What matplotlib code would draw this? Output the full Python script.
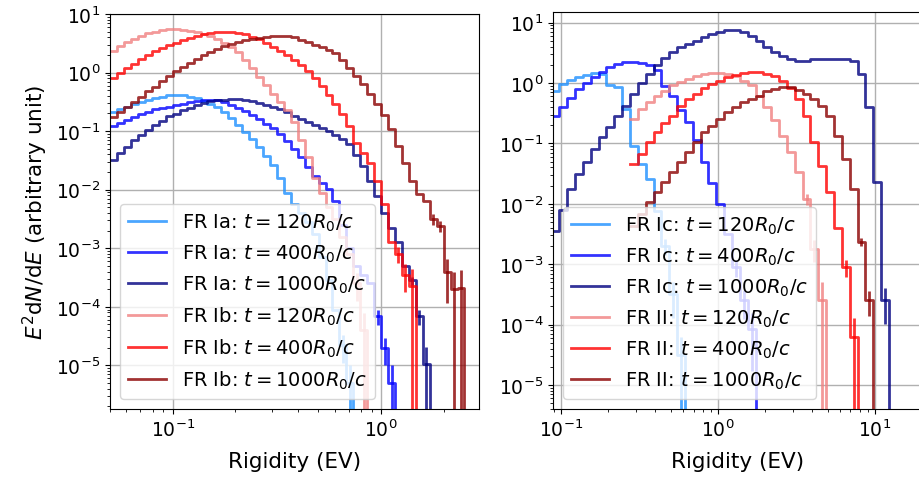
import numpy as np
import matplotlib
matplotlib.use('Agg')
import matplotlib.pyplot as plt

# log10(E^2 dN/dE) per rigidity bin.
# left panel: 30 bins per decade, first bin starts at 10^-1.3
LEFT_LO, LEFT_STEP = -1.3, 1.0 / 30
ia_120 = [-0.68, -0.63, -0.58, -0.54, -0.50, -0.46, -0.43, -0.41, -0.39, -0.38,
          -0.39, -0.41, -0.44, -0.49, -0.53, -0.58, -0.67, -0.78, -0.90, -1.02,
          -1.14, -1.27, -1.42, -1.58, -1.80, -2.05, -2.25, -2.40, -2.55, -2.75,
          -3.15, -3.55, -4.05, -4.65, -5.30]
ia_400 = [-0.92, -0.86, -0.81, -0.76, -0.71, -0.67, -0.63, -0.60, -0.58, -0.55,
          -0.53, -0.51, -0.49, -0.47, -0.46, -0.47, -0.50, -0.55, -0.60, -0.66,
          -0.73, -0.80, -0.87, -0.95, -1.05, -1.17, -1.30, -1.45, -1.62, -1.76,
          -1.88, -1.98, -2.20, -2.60, -3.00, -3.30, -3.45, -3.60, -4.16, -4.70,
          -5.30]
ia_1000 = [-1.50, -1.38, -1.27, -1.16, -1.06, -0.98, -0.89, -0.82, -0.75, -0.70,
           -0.64, -0.60, -0.56, -0.52, -0.49, -0.47, -0.46, -0.45, -0.45, -0.46,
           -0.48, -0.52, -0.55, -0.59, -0.63, -0.68, -0.74, -0.80, -0.85, -0.90,
           -0.95, -1.00, -1.06, -1.13, -1.22, -1.40, -1.60, -1.85, -2.10, -2.40,
           -2.65, -2.90, -3.30, -3.55, -4.16, -4.98]
ib_120 = [0.37, 0.45, 0.52, 0.58, 0.63, 0.67, 0.70, 0.73, 0.74, 0.74,
          0.73, 0.71, 0.69, 0.66, 0.62, 0.57, 0.51, 0.44, 0.35, 0.22,
          0.07, -0.08, -0.22, -0.36, -0.50, -0.64, -0.85, -1.15, -1.45, -1.80,
          -2.05, -2.30, -2.50, -2.80, -3.10, -3.60, -4.40]
ib_400 = [-0.10, -0.01, 0.07, 0.15, 0.23, 0.30, 0.36, 0.42, 0.47, 0.51,
          0.55, 0.59, 0.62, 0.65, 0.67, 0.69, 0.69, 0.69, 0.68, 0.65,
          0.61, 0.57, 0.51, 0.44, 0.37, 0.30, 0.22, 0.13, 0.02, -0.10,
          -0.23, -0.38, -0.53, -0.70, -0.92, -1.20, -1.38, -1.55, -1.85, -2.25,
          -2.90, -3.10, -3.45, -3.65]
ib_1000 = [-0.76, -0.67, -0.58, -0.50, -0.41, -0.32, -0.24, -0.15, -0.06, 0.02,
           0.10, 0.17, 0.24, 0.30, 0.35, 0.40, 0.45, 0.49, 0.52, 0.55,
           0.57, 0.59, 0.61, 0.62, 0.62, 0.62, 0.60, 0.56, 0.52, 0.47,
           0.43, 0.39, 0.33, 0.22, 0.08, -0.06, -0.20, -0.36, -0.53, -0.72,
           -0.97, -1.25, -1.55, -1.85, -2.07, -2.20, -2.50, -2.62, -3.41, -3.70,
           -3.68]

# relative errors of the last few bins of each series (low-count tail)
ia_120_err = [0.5, 1.0]
ia_400_err = [0.3, 0.5, 1.0]
ia_1000_err = [0.15, 0.3, 1.0]
ib_120_err = [0.5, 1.0]
ib_400_err = [0.3, 0.5, 1.0]
ib_1000_err = [0.2, 0.2, 0.7, 1.0, 1.0]

# right panel: 20 bins per decade, first bin starts at 10^-1.06
RIGHT_LO, RIGHT_STEP = -1.06, 0.05
ic_120 = [-0.13, -0.02, 0.05, 0.10, 0.13, 0.17, 0.15, -0.04, -0.06, -0.43,
          -1.04, -1.34, -1.59, -2.12, -2.70, -3.50, -4.50]
ic_400 = [-0.55, -0.40, -0.24, -0.10, 0.00, 0.10, 0.19, 0.26, 0.32, 0.35,
          0.35, 0.33, 0.30, 0.22, -0.05, -0.21, -0.45, -0.65, -0.95, -1.30,
          -1.65, -2.00, -2.50, -3.05, -3.60, -4.07]
ic_1000 = [-2.45, -2.10, -1.75, -1.50, -1.30, -1.10, -0.90, -0.72, -0.55, -0.38,
           -0.18, 0.00, 0.15, 0.30, 0.42, 0.52, 0.60, 0.65, 0.70, 0.76,
           0.81, 0.85, 0.88, 0.88, 0.85, 0.78, 0.69, 0.60, 0.51, 0.45,
           0.40, 0.37, 0.37, 0.39, 0.40, 0.39, 0.40, 0.39, 0.37, 0.15,
           -0.39, -1.64, -3.60]
ii_120 = [-0.59, -0.43, -0.31, -0.21, -0.13, -0.04, 0.02, 0.07, 0.12, 0.15,
          0.17, 0.17, 0.15, 0.12, 0.04, -0.04, -0.21, -0.39, -0.62, -0.87,
          -1.14, -1.47, -1.92, -2.75, -3.60]
ii_400 = [-1.34, -1.17, -0.97, -0.81, -0.67, -0.54, -0.38, -0.26, -0.18, -0.09,
          -0.01, 0.04, 0.10, 0.14, 0.17, 0.19, 0.19, 0.15, 0.12, 0.04,
          -0.09, -0.26, -0.54, -0.97, -1.37, -1.80, -2.40, -3.05, -4.20]
ii_1000 = [-2.37, -2.17, -1.97, -1.80, -1.64, -1.47, -1.31, -1.14, -0.97, -0.81,
           -0.71, -0.59, -0.48, -0.39, -0.31, -0.26, -0.21, -0.14, -0.10, -0.06,
           -0.06, -0.11, -0.18, -0.26, -0.38, -0.55, -0.87, -1.25, -1.75, -2.63,
           -3.60]

ic_120_err = [0.3, 0.6, 1.0]
ic_400_err = [0.3, 0.5, 0.8]
ic_1000_err = [0.6]
ii_120_err = [0.2, 0.4, 1.0]
ii_400_err = [0.3, 1.0]
ii_1000_err = [0.15, 0.45]

times = [120, 400, 1000]
blues = ['dodgerblue', 'blue', 'navy']
reds = ['lightcoral', 'red', 'darkred']

# (values, tail errors, first bin index) per series
left_a = [(ia_120, ia_120_err, 0), (ia_400, ia_400_err, 0), (ia_1000, ia_1000_err, 0)]
left_b = [(ib_120, ib_120_err, 0), (ib_400, ib_400_err, 0), (ib_1000, ib_1000_err, 0)]
right_a = [(ic_120, ic_120_err, 0), (ic_400, ic_400_err, 0), (ic_1000, ic_1000_err, 0)]
right_b = [(ii_120, ii_120_err, 10), (ii_400, ii_400_err, 10), (ii_1000, ii_1000_err, 10)]


def draw(ax, logv, err, start, lo, step, color, label):
    v = 10.0 ** np.array(logv)
    n = len(v)
    # histogram drops to zero after the last filled bin
    vz = np.append(v, 0.0)
    edges = lo + step * np.arange(start, start + n + 2)
    ax.step(10.0 ** edges, np.append(vz, 0.0), where='post', color=color,
            lw=2, alpha=0.8, label=label)
    k = len(err)
    mids = 10.0 ** (0.5 * (edges[n - k:n] + edges[n - k + 1:n + 1]))
    ax.errorbar(mids, v[n - k:], yerr=v[n - k:] * np.array(err), fmt='none',
                ecolor=color, elinewidth=2, alpha=0.8)


fig = plt.figure(figsize=(9.19, 4.85), dpi=100)
ax1 = fig.add_axes([110 / 919, 75 / 485, 369 / 919, 395 / 485])
ax2 = fig.add_axes([553 / 919, 75 / 485, 369 / 919, 397 / 485])

for ax, sa, sb, na, nb, lo, step in [
        (ax1, left_a, left_b, 'Ia', 'Ib', LEFT_LO, LEFT_STEP),
        (ax2, right_a, right_b, 'Ic', 'II', RIGHT_LO, RIGHT_STEP)]:
    ax.set_xscale('log')
    ax.set_yscale('log')
    for (vals, err, s), t, c in zip(sa, times, blues):
        draw(ax, vals, err, s, lo, step, c, r'FR %s: $t = %dR_0/c$' % (na, t))
    for (vals, err, s), t, c in zip(sb, times, reds):
        draw(ax, vals, err, s, lo, step, c, r'FR %s: $t = %dR_0/c$' % (nb, t))
    ax.grid(True, which='major', color='#b0b0b0', lw=1)
    ax.set_axisbelow(True)
    ax.tick_params(labelsize=13.5)
    ax.set_xlabel('Rigidity (EV)', fontsize=15.5, labelpad=8)
    ax.legend(loc='lower left', fontsize=14)

ax1.set_xlim(0.05, 2.95)
ax1.set_ylim(1.8e-6, 10)
ax2.set_xlim(0.089, 20)
ax2.set_ylim(4e-6, 15)
ax1.set_ylabel(r'$E^2\mathrm{d}N/\mathrm{d}E$ (arbitrary unit)', fontsize=15.5)

fig.savefig('out.png', dpi=100)
